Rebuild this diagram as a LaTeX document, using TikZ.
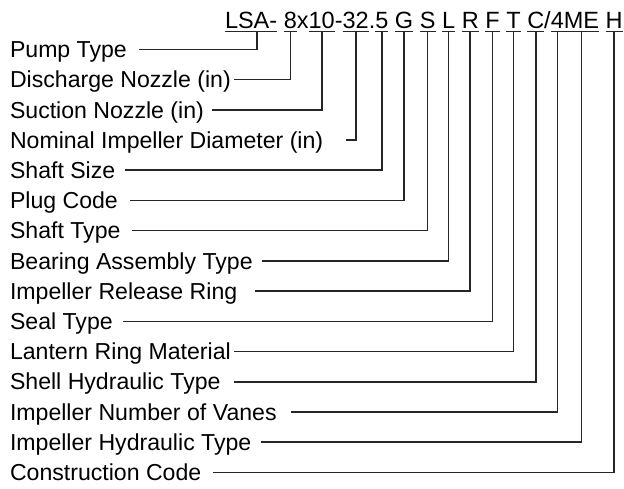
\documentclass[tikz,border=0pt]{standalone}
\usepackage{fontspec}
\setmainfont{Liberation Sans}
\usetikzlibrary{positioning}
\newcommand{\lblfont}{\fontsize{23.1}{27}\selectfont}
\newcommand{\codefont}{\fontsize{23.5}{28}\selectfont}
\tikzset{
  code/.style={font=\codefont, inner sep=0pt, outer sep=0pt, anchor=base west},
  lbl/.style={font=\lblfont, inner sep=0pt, outer sep=0pt, anchor=west, text height=16.5pt, text depth=0pt},
  wire/.style={line width=1.6pt, black!85}
}

\begin{document}
\begin{tikzpicture}[x=1pt, y=1pt]
\useasboundingbox (0,0) rectangle (624,-489);
% model code
\node[code] (lsa) at (225,-29) {LSA-};
\node[right=6.6pt of lsa.base east, code] (dis) {8};
\node[right=0pt of dis.base east, code] (x1) {x};
\node[right=0pt of x1.base east, code] (suc) {10};
\node[right=0pt of suc.base east, code] (d1) {-};
\node[right=0pt of d1.base east, code] (imp) {32};
\node[right=0pt of imp.base east, code] (p1) {.};
\node[right=0pt of p1.base east, code] (shs) {5};
\node[right=6.6pt of shs.base east, code] (plg) {G};
\node[right=6.6pt of plg.base east, code] (sht) {S};
\node[right=6.6pt of sht.base east, code] (brg) {L};
\node[right=6.6pt of brg.base east, code] (rls) {R};
\node[right=6.6pt of rls.base east, code] (sea) {F};
\node[right=6.6pt of sea.base east, code] (lan) {T};
\node[right=6.6pt of lan.base east, code] (shl) {C};
\node[right=0pt of shl.base east, code] (s1) {/};
\node[right=0pt of s1.base east, code] (van) {4};
\node[right=0pt of van.base east, code] (hyd) {ME};
\node[right=6.6pt of hyd.base east, code] (con) {H};
% underlines
\foreach \s in {lsa,dis,suc,imp,shs,plg,sht,brg,rls,sea,lan,shl,van,hyd,con} {
  \draw[wire] ([yshift=-2.5pt]\s.base west) -- ([yshift=-2.5pt]\s.base east);
  \coordinate (\s-t) at ([yshift=-2.5pt]\s.base);
}
\coordinate (lsa-t) at ([xshift=6pt,yshift=-2.5pt]lsa.base);
% labels and leaders
\foreach \txt/\seg/\gap [count=\i from 0] in {
    Pump Type/lsa/11.7,
    Discharge Nozzle (in)/dis/3,
    Suction Nozzle (in)/suc/8,
    Nominal Impeller Diameter (in)/imp/23,
    Shaft Size/shs/10,
    Plug Code/plg/12,
    Shaft Type/sht/12,
    Bearing Assembly Type/brg/9,
    Impeller Release Ring/rls/18,
    Seal Type/sea/10,
    Lantern Ring Material/lan/3,
    Shell Hydraulic Type/shl/13,
    Impeller Number of Vanes/van/14,
    Impeller Hydraulic Type/hyd/10,
    Construction Code/con/12} {
  \node[lbl] (l\i) at (10,{-(49.5+30.2*\i)}) {\txt};
  \draw[wire] (\seg-t) |- ([xshift=\gap pt]l\i.east);
}
\end{tikzpicture}
\end{document}
